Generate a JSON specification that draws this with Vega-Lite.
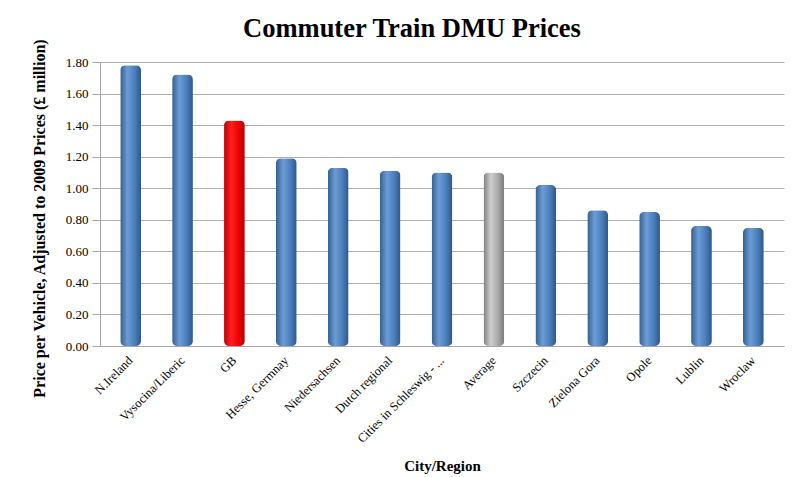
{
  "$schema": "https://vega.github.io/schema/vega-lite/v6.json",
  "autosize": {"type": "none"},
  "width": 684,
  "height": 284,
  "padding": {"left": 100, "top": 62, "right": 22, "bottom": 131},
  "background": "white",
  "title": {
    "text": "Commuter Train DMU Prices",
    "font": "Liberation Serif",
    "fontSize": 26.5,
    "fontWeight": "bold",
    "color": "black",
    "anchor": "middle",
    "frame": "group",
    "dx": -30,
    "offset": -4
  },
  "data": {
    "values": [
      {"region": "N.Ireland", "price": 1.78, "group": "country"},
      {"region": "Vysocina/Liberic", "price": 1.72, "group": "country"},
      {"region": "GB", "price": 1.43, "group": "gb"},
      {"region": "Hesse, Germnay", "price": 1.19, "group": "country"},
      {"region": "Niedersachsen", "price": 1.13, "group": "country"},
      {"region": "Dutch regional", "price": 1.11, "group": "country"},
      {"region": "Cities in Schleswig - ...", "price": 1.10, "group": "country"},
      {"region": "Average", "price": 1.10, "group": "average"},
      {"region": "Szczecin", "price": 1.02, "group": "country"},
      {"region": "Zielona Gora", "price": 0.86, "group": "country"},
      {"region": "Opole", "price": 0.85, "group": "country"},
      {"region": "Lublin", "price": 0.76, "group": "country"},
      {"region": "Wroclaw", "price": 0.75, "group": "country"}
    ]
  },
  "encoding": {
    "x": {
      "field": "region",
      "type": "nominal",
      "scale": {
        "domain": ["N.Ireland", "Vysocina/Liberic", "GB", "Hesse, Germnay", "Niedersachsen", "Dutch regional", "Cities in Schleswig - ...", "Average", "Szczecin", "Zielona Gora", "Opole", "Lublin", "Wroclaw"],
        "paddingInner": 0.6,
        "paddingOuter": 0.39
      },
      "axis": {
        "title": "City/Region",
        "titleFont": "Liberation Serif",
        "titleFontSize": 15,
        "titleFontWeight": "bold",
        "titleColor": "black",
        "titlePadding": 14,
        "labelFont": "Liberation Serif",
        "labelFontSize": 12.5,
        "labelColor": "black",
        "labelAngle": -45,
        "labelAlign": "right",
        "labelBaseline": "middle",
        "labelPadding": 12,
        "ticks": false,
        "domainColor": "#A6A6A6",
        "grid": false
      }
    },
    "y": {
      "field": "price",
      "type": "quantitative",
      "scale": {"domain": [0, 1.8]},
      "axis": {
        "title": "Price per Vehicle, Adjusted to 2009 Prices (£ million)",
        "titleFont": "Liberation Serif",
        "titleFontSize": 16,
        "titleFontWeight": "bold",
        "titleColor": "black",
        "titlePadding": 18,
        "titleY": 156,
        "labelFont": "Liberation Serif",
        "labelFontSize": 13,
        "labelColor": "black",
        "format": ".2f",
        "values": [0, 0.2, 0.4, 0.6, 0.8, 1.0, 1.2, 1.4, 1.6, 1.8],
        "tickSize": 8,
        "tickColor": "#A6A6A6",
        "domainColor": "#A6A6A6",
        "labelPadding": 4,
        "gridColor": "#B0B0B0",
        "gridWidth": 1
      }
    }
  },
  "layer": [
    {
      "transform": [{"filter": "datum.group === 'country'"}],
      "mark": {
        "type": "bar",
        "cornerRadius": 5,
        "color": {
          "gradient": "linear", "x1": 0, "y1": 0, "x2": 1, "y2": 0,
          "stops": [
            {"offset": 0, "color": "#34608F"},
            {"offset": 0.35, "color": "#6C9CD6"},
            {"offset": 0.7, "color": "#4B7EBB"},
            {"offset": 1, "color": "#2D5888"}
          ]
        }
      }
    },
    {
      "transform": [{"filter": "datum.group === 'gb'"}],
      "mark": {
        "type": "bar",
        "cornerRadius": 5,
        "color": {
          "gradient": "linear", "x1": 0, "y1": 0, "x2": 1, "y2": 0,
          "stops": [
            {"offset": 0, "color": "#C00000"},
            {"offset": 0.35, "color": "#FF2020"},
            {"offset": 0.7, "color": "#F00000"},
            {"offset": 1, "color": "#B00000"}
          ]
        }
      }
    },
    {
      "transform": [{"filter": "datum.group === 'average'"}],
      "mark": {
        "type": "bar",
        "cornerRadius": 5,
        "color": {
          "gradient": "linear", "x1": 0, "y1": 0, "x2": 1, "y2": 0,
          "stops": [
            {"offset": 0, "color": "#7F7F7F"},
            {"offset": 0.35, "color": "#CFCFCF"},
            {"offset": 0.7, "color": "#A8A8A8"},
            {"offset": 1, "color": "#7A7A7A"}
          ]
        }
      }
    }
  ],
  "config": {
    "view": {"stroke": null}
  }
}
